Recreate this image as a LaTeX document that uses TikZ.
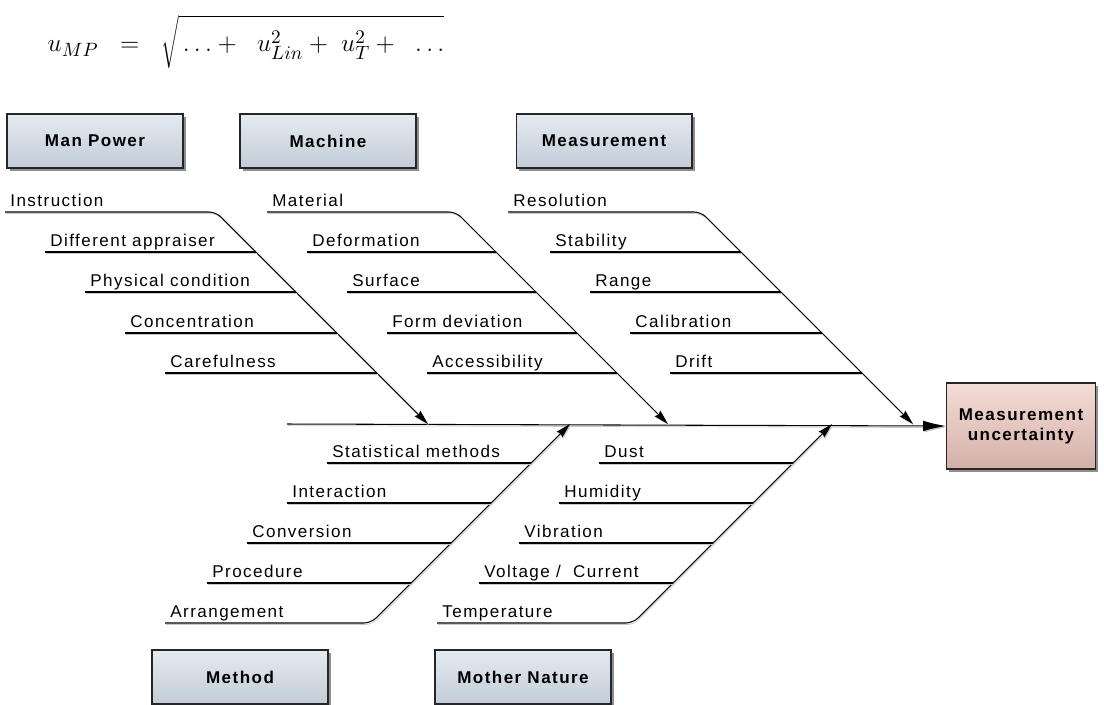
\documentclass[tikz,border=0pt]{standalone}
\usepackage{fontspec}
\setmainfont{Liberation Sans}
\newfontfamily\fishfont[LetterSpace=8.5]{Liberation Sans}
\usetikzlibrary{arrows.meta,shadows}

\definecolor{boxtop}{HTML}{E3EAF1}
\definecolor{boxmid}{HTML}{D0D9E2}
\definecolor{boxbot}{HTML}{C3CDD7}
\definecolor{efftop}{HTML}{F4DDD7}
\definecolor{effmid}{HTML}{E3C4BC}
\definecolor{effbot}{HTML}{D4B0A7}

\begin{document}
\begin{tikzpicture}
	[x=0.02cm, y=-0.02cm,
	cat/.style={draw=black!85, line width=0.6pt, minimum width=3.52cm, minimum height=1.08cm,
		top color=boxtop, middle color=boxmid, bottom color=boxbot,
		drop shadow={shadow xshift=1.6pt, shadow yshift=-1.6pt, fill=black!55, opacity=0.8},
		font=\fishfont\bfseries\fontsize{9.7}{11.5}\selectfont},
	effect/.style={cat, minimum width=2.98cm, minimum height=1.72cm, align=center,
		top color=efftop, middle color=effmid, bottom color=effbot},
	cause/.style={anchor=south west, inner xsep=2.85pt, inner ysep=2.85pt, text depth=0pt,
		font=\fishfont\fontsize{9.7}{11.5}\selectfont},
	bone/.style={line width=0.6pt,
		preaction={draw=black!22, transform canvas={xshift=0.6pt, yshift=-0.9pt}}},
	tip/.style={-{Stealth[length=8.5pt, width=4.5pt, inset=1pt]}}]
	\useasboundingbox (0,0) rectangle (1104,704);

	\node (ump) at (246,42) {\fontsize{15}{18}\selectfont
		$u_{MP}\ \ =\ \ \sqrt{\rule[-7pt]{0pt}{24pt}\ldots +\ \ u_{Lin}^2 +\ u_T^2 +\ \ \ldots}$};

	\node (manpower) [cat] at (95,141) {Man Power};
	\node (machine) [cat] at (328,141) {Machine};
	\node (measurement) [cat] at (604,141) {Measurement};
	\node (method) [cat] at (240,677) {Method};
	\node (nature) [cat] at (523,677) {Mother Nature};
	\node (uncert) [effect] at (1021,426) {Measurement\\uncertainty};

	\coordinate (spine) at (287,424);
	\draw [bone, -{Latex[length=13pt, width=6pt]}] (spine) -- (uncert.west);

	\coordinate (mpTip) at (428,424);
	\coordinate (mpTop) at (216,212);
	\coordinate (mp2) at (256,252);
	\coordinate (mp3) at (296,292);
	\coordinate (mp4) at (337,333);
	\coordinate (mp5) at (377,373);
	\node (instr) [cause] at (5,212) {Instruction};
	\node (apprais) [cause] at (45,252) {Different appraiser};
	\node (physcond) [cause] at (85,292) {Physical condition};
	\node (concent) [cause] at (125,333) {Concentration};
	\node (careful) [cause] at (165,373) {Carefulness};
	\draw [bone, tip, rounded corners=4pt] (instr.south west) -- (mpTop) -- (mpTip);
	\draw [bone] (apprais.south west) -- (mp2);
	\draw [bone] (physcond.south west) -- (mp3);
	\draw [bone] (concent.south west) -- (mp4);
	\draw [bone] (careful.south west) -- (mp5);

	\coordinate (maTip) at (668,424);
	\coordinate (maTop) at (456,212);
	\coordinate (ma2) at (496,252);
	\coordinate (ma3) at (536,292);
	\coordinate (ma4) at (577,333);
	\coordinate (ma5) at (617,373);
	\node (material) [cause] at (267,212) {Material};
	\node (deform) [cause] at (307,252) {Deformation};
	\node (surface) [cause] at (347,292) {Surface};
	\node (formdev) [cause] at (387,333) {Form deviation};
	\node (access) [cause] at (427,373) {Accessibility};
	\draw [bone, tip, rounded corners=4pt] (material.south west) -- (maTop) -- (maTip);
	\draw [bone] (deform.south west) -- (ma2);
	\draw [bone] (surface.south west) -- (ma3);
	\draw [bone] (formdev.south west) -- (ma4);
	\draw [bone] (access.south west) -- (ma5);

	\coordinate (meTip) at (913,424);
	\coordinate (meTop) at (701,212);
	\coordinate (me2) at (741,252);
	\coordinate (me3) at (781,292);
	\coordinate (me4) at (822,333);
	\coordinate (me5) at (862,373);
	\node (resol) [cause] at (508,212) {Resolution};
	\node (stabil) [cause] at (550,252) {Stability};
	\node (range) [cause] at (590,292) {Range};
	\node (calib) [cause] at (630,333) {Calibration};
	\node (drift) [cause] at (670,373) {Drift};
	\draw [bone, tip, rounded corners=4pt] (resol.south west) -- (meTop) -- (meTip);
	\draw [bone] (stabil.south west) -- (me2);
	\draw [bone] (range.south west) -- (me3);
	\draw [bone] (calib.south west) -- (me4);
	\draw [bone] (drift.south west) -- (me5);

	\coordinate (mtTip) at (570,424);
	\coordinate (mtBot) at (371,623);
	\coordinate (mt1) at (531,463);
	\coordinate (mt2) at (491,503);
	\coordinate (mt3) at (451,543);
	\coordinate (mt4) at (411,583);
	\node (statmeth) [cause] at (327,463) {Statistical methods};
	\node (interact) [cause] at (287,503) {Interaction};
	\node (convers) [cause] at (247,543) {Conversion};
	\node (proced) [cause] at (207,583) {Procedure};
	\node (arrange) [cause] at (165,623) {Arrangement};
	\draw [bone, tip, rounded corners=4pt] (arrange.south west) -- (mtBot) -- (mtTip);
	\draw [bone] (statmeth.south west) -- (mt1);
	\draw [bone] (interact.south west) -- (mt2);
	\draw [bone] (convers.south west) -- (mt3);
	\draw [bone] (proced.south west) -- (mt4);

	\coordinate (mnTip) at (832,424);
	\coordinate (mnBot) at (633,623);
	\coordinate (mn1) at (793,463);
	\coordinate (mn2) at (753,503);
	\coordinate (mn3) at (713,543);
	\coordinate (mn4) at (673,583);
	\node (dust) [cause] at (599,463) {Dust};
	\node (humid) [cause] at (559,503) {Humidity};
	\node (vibrat) [cause] at (519,543) {Vibration};
	\node (voltage) [cause] at (479,583) {Voltage /\ \ Current};
	\node (temper) [cause] at (437,623) {Temperature};
	\draw [bone, tip, rounded corners=4pt] (temper.south west) -- (mnBot) -- (mnTip);
	\draw [bone] (dust.south west) -- (mn1);
	\draw [bone] (humid.south west) -- (mn2);
	\draw [bone] (vibrat.south west) -- (mn3);
	\draw [bone] (voltage.south west) -- (mn4);
\end{tikzpicture}
\end{document}
